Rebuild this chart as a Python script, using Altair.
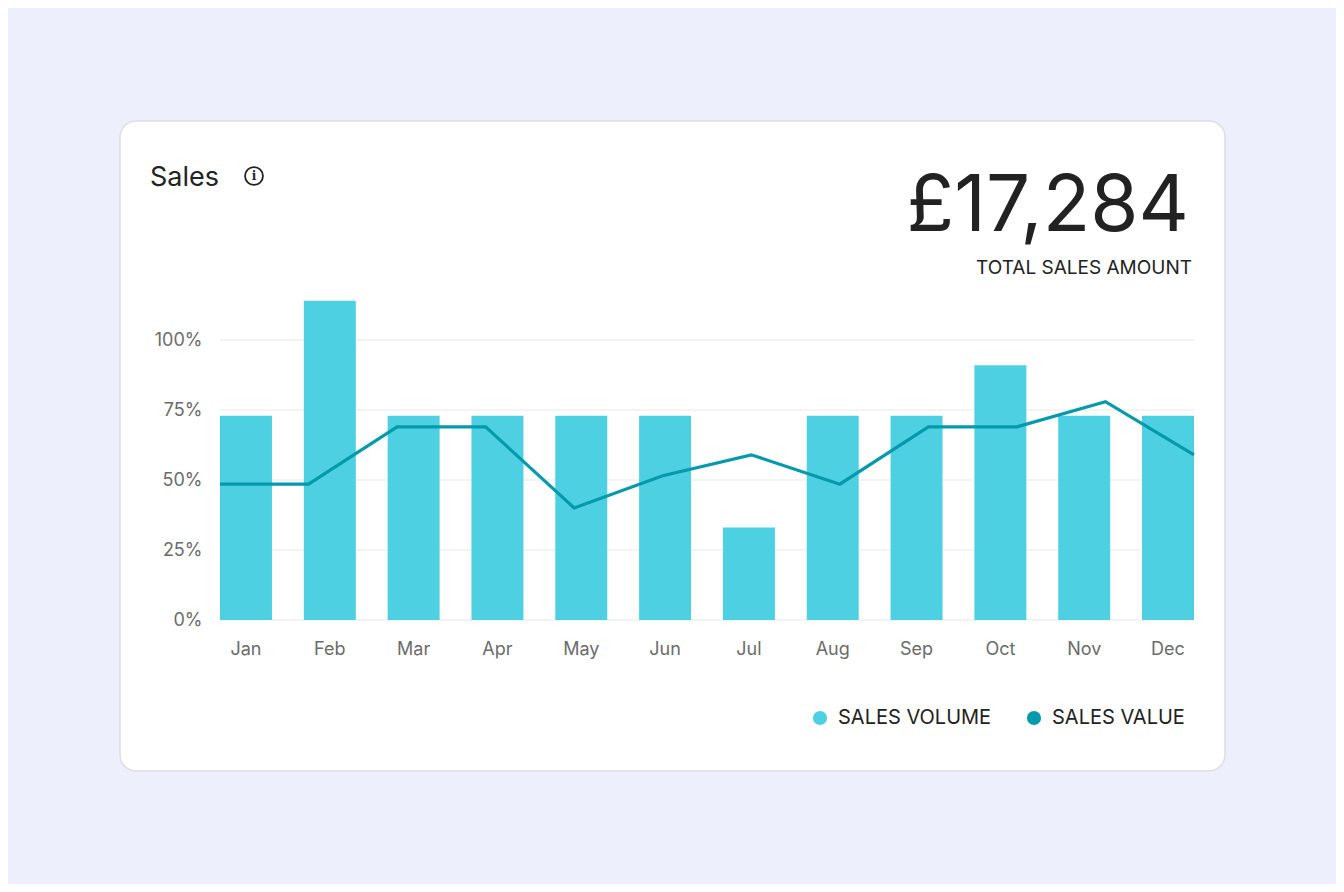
import altair as alt
import pandas as pd

# Données du graphique
months = ["Jan", "Feb", "Mar", "Apr", "May", "Jun", "Jul", "Aug", "Sep", "Oct", "Nov", "Dec"]
sales_volume = [73, 114, 73, 73, 73, 73, 33, 73, 73, 91, 73, 73]
sales_value = [48.5, 48.5, 69, 69, 40, 51.5, 59, 48.5, 69, 69, 78, 59]
y_ticks = [0, 25, 50, 75, 100]
series = ["SALES VOLUME", "SALES VALUE"]
title_text = ["Sales"]
total_amount = ["£17,284"]
total_label = ["TOTAL SALES AMOUNT"]

CYAN = "#4DD0E1"
TEAL = "#0599AC"
INK = "#222222"
GREY = "#6B6B6B"
FONT = "Inter"

W, H = 974, 320
y_scale = alt.Scale(domain=[0, 114.3], nice=False, zero=True)

y_axis = alt.Axis(values=y_ticks, labelExpr="datum.value + '%'", ticks=False,
                  domain=False, grid=False, labelPadding=18, labelFontSize=18,
                  labelColor=GREY, labelFont=FONT, labelBaseline="middle", zindex=1)

df = pd.DataFrame({"month": months, "volume": sales_volume, "value": sales_value,
                   "series": series[0]})

# Carte blanche
card = alt.Chart(pd.DataFrame({"c": [0]})).mark_rect(
    fill="white", stroke="#DDDDE3", strokeWidth=1.5, cornerRadius=16
).encode(x=alt.value(-100), x2=alt.value(1005), y=alt.value(-179), y2=alt.value(471))

# Grille horizontale (porte aussi l'axe Y)
grid = alt.Chart(pd.DataFrame({"tick": y_ticks})).mark_rule(
    color="#F0F0F2", strokeWidth=1.5
).encode(y=alt.Y("tick:Q", scale=y_scale, title=None, axis=y_axis),
         x=alt.value(0), x2=alt.value(W))

bars = alt.Chart(df).mark_bar().encode(
    x=alt.X("month:N", sort=months, title=None,
            scale=alt.Scale(paddingInner=0.38, paddingOuter=0),
            axis=alt.Axis(labelAngle=0, ticks=False, domain=False, grid=False,
                          labelPadding=20, labelFontSize=18, labelColor=GREY,
                          labelFont=FONT, zindex=1)),
    y=alt.Y("volume:Q", scale=y_scale, title=None, axis=y_axis),
    color=alt.Color("series:N", scale=alt.Scale(domain=series, range=[CYAN, TEAL]),
                    legend=alt.Legend(title=None, orient="none", legendX=590, legendY=408,
                                      direction="horizontal", symbolType="circle",
                                      symbolSize=200, symbolStrokeWidth=0,
                                      labelFontSize=20, labelFont=FONT, labelColor=INK,
                                      columnPadding=32, labelOffset=8)),
)

line = alt.Chart(df).mark_line(color=TEAL, strokeWidth=3.2).encode(
    x=alt.X("month:N", sort=months, scale=alt.Scale(type="point", padding=0), axis=None),
    y=alt.Y("value:Q", scale=y_scale, title=None, axis=y_axis),
)

title = alt.Chart(pd.DataFrame({"t": title_text})).mark_text(
    align="left", baseline="alphabetic", font=FONT, fontSize=27, color=INK
).encode(text="t:N", x=alt.value(-70), y=alt.value(-114))

icon_ring = alt.Chart(pd.DataFrame({"c": [0]})).mark_point(
    shape="circle", size=320, filled=False, strokeWidth=1.8, color=INK, opacity=1
).encode(x=alt.value(34), y=alt.value(-124))

icon_i = alt.Chart(pd.DataFrame({"t": ["i"]})).mark_text(
    align="center", baseline="middle", font="DejaVu Serif", fontWeight="bold",
    fontSize=12, color=INK
).encode(text="t:N", x=alt.value(34), y=alt.value(-124))

amount = alt.Chart(pd.DataFrame({"t": total_amount})).mark_text(
    align="right", baseline="alphabetic", font=FONT, fontSize=78, fontWeight=400, color=INK
).encode(text="t:N", x=alt.value(969), y=alt.value(-69))

amount_label = alt.Chart(pd.DataFrame({"t": total_label})).mark_text(
    align="right", baseline="alphabetic", font=FONT, fontSize=19, color=INK
).encode(text="t:N", x=alt.value(972), y=alt.value(-26))

chart = (
    alt.layer(card, grid, bars, line, title, icon_ring, icon_i, amount, amount_label)
    .resolve_scale(x="independent")
    .properties(width=W, height=H, autosize=alt.AutoSizeParams(type="none"),
                padding={"left": 212, "top": 292, "right": 142, "bottom": 264})
    .configure(background="#EEEFFD")
    .configure_view(stroke=None)
)

chart.save("out.html", embed_options={"renderer": "svg", "actions": False})
